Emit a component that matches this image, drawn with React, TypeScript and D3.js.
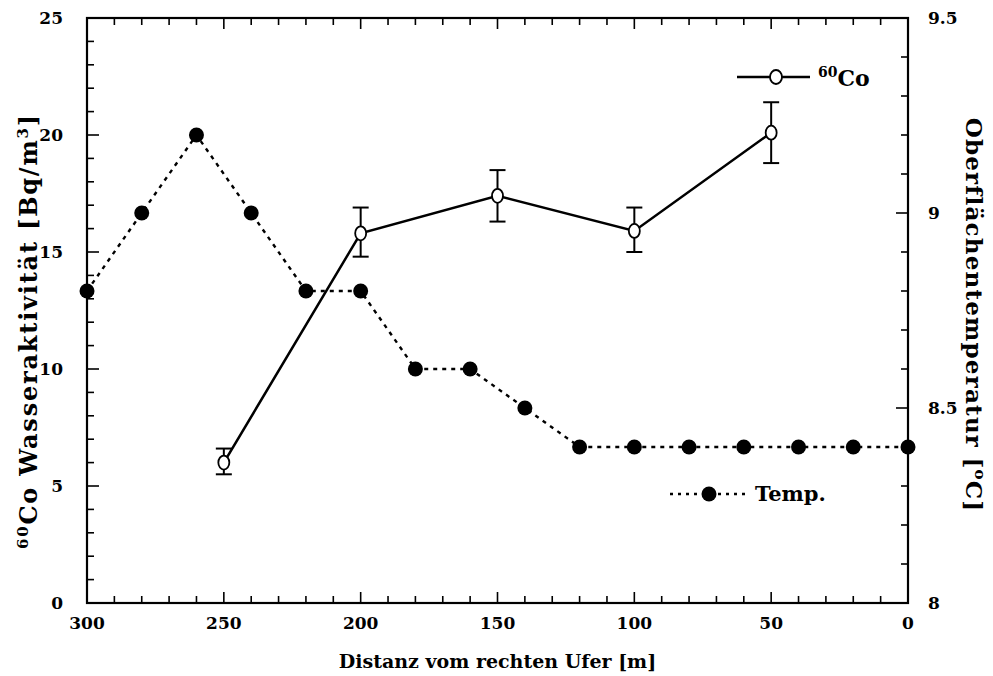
import React from "react";
import * as d3 from "d3";

const coDist = [250, 200, 150, 100, 50];
const coValue = [6.0, 15.8, 17.4, 15.9, 20.1];
const coLow = [5.5, 14.8, 16.3, 15.0, 18.8];
const coHigh = [6.6, 16.9, 18.5, 16.9, 21.4];

const tempDist = [300, 280, 260, 240, 220, 200, 180, 160, 140, 120, 100, 80, 60, 40, 20, 0];
const tempValue = [8.8, 9.0, 9.2, 9.0, 8.8, 8.8, 8.6, 8.6, 8.5, 8.4, 8.4, 8.4, 8.4, 8.4, 8.4, 8.4];

const xTickLabels = [300, 250, 200, 150, 100, 50, 0];
const leftTickLabels = [0, 5, 10, 15, 20, 25];
const rightTickLabels = ["8", "8.5", "9", "9.5"];

const W = 993, H = 676;
const L = 87, R = 908, T = 18, B = 603;
const FONT = "'DejaVu Serif', 'Liberation Serif', serif";

export default function App() {
  const x = d3.scaleLinear().domain([300, 0]).range([L, R]);
  const yL = d3.scaleLinear().domain([0, 25]).range([B, T]);
  const yR = d3.scaleLinear().domain([8, 9.5]).range([B, T]);

  const coLine = d3.line<number>().x((_, i) => x(coDist[i])).y((d) => yL(d));
  const tempLine = d3.line<number>().x((_, i) => x(tempDist[i])).y((d) => yR(d));

  const xMinor = d3.range(0, 301, 10);
  const yLMinor = d3.range(0, 26, 1);
  const yRMinor = d3.range(80, 96, 1).map((v) => v / 10);

  const tickStyle = { stroke: "#000", strokeWidth: 1.6 };
  const labelStyle: React.CSSProperties = { fontFamily: FONT, fontWeight: "bold", fontSize: 17 };

  return (
    <svg width={W} height={H} style={{ position: "absolute", left: 0, top: 0, background: "#fff" }}>
      {/* frame */}
      <rect x={L} y={T} width={R - L} height={B - T} fill="none" stroke="#000" strokeWidth={2.2} />

      {/* x ticks bottom & top */}
      {xMinor.map((v) => {
        const major = v % 50 === 0;
        const len = major ? 11 : 7;
        return (
          <g key={"x" + v}>
            <line x1={x(v)} x2={x(v)} y1={B} y2={B - len} {...tickStyle} />
            <line x1={x(v)} x2={x(v)} y1={T} y2={T + len} {...tickStyle} />
          </g>
        );
      })}
      {xTickLabels.map((v) => (
        <text key={"xl" + v} x={x(v)} y={B + 26} textAnchor="middle" style={labelStyle}>
          {v}
        </text>
      ))}

      {/* left ticks */}
      {yLMinor.map((v) => {
        const major = v % 5 === 0;
        const len = major ? 12 : 7;
        return <line key={"yl" + v} x1={L} x2={L + len} y1={yL(v)} y2={yL(v)} {...tickStyle} />;
      })}
      {leftTickLabels.map((v) => (
        <text key={"yll" + v} x={L - 24} y={yL(v) + 6} textAnchor="end" style={labelStyle}>
          {v}
        </text>
      ))}

      {/* right ticks */}
      {yRMinor.map((v, i) => {
        const major = i % 5 === 0;
        const len = major ? 12 : 7;
        return <line key={"yr" + i} x1={R} x2={R - len} y1={yR(v)} y2={yR(v)} {...tickStyle} />;
      })}
      {rightTickLabels.map((v) => (
        <text key={"yrl" + v} x={R + 20} y={yR(+v) + 6} textAnchor="start" style={labelStyle}>
          {v}
        </text>
      ))}

      {/* axis titles */}
      <text x={(L + R) / 2} y={668} textAnchor="middle" style={{ ...labelStyle, fontSize: 19 }}>
        Distanz vom rechten Ufer [m]
      </text>
      <text
        transform={`translate(37, 331) rotate(-90)`}
        textAnchor="middle"
        style={{ ...labelStyle, fontSize: 24, letterSpacing: 1.8 }}
      >
        <tspan fontSize={15} dy={-9}>60</tspan>
        <tspan dy={9}>Co Wasseraktivität [Bq/m</tspan>
        <tspan fontSize={15} dy={-9}>3</tspan>
        <tspan dy={9}>]</tspan>
      </text>
      <text
        transform={`translate(966, 315) rotate(90)`}
        textAnchor="middle"
        style={{ ...labelStyle, fontSize: 23, letterSpacing: 1.2 }}
      >
        <tspan>Oberflächentemperatur [</tspan>
        <tspan fontSize={15} dy={-9}>o</tspan>
        <tspan dy={9}>C]</tspan>
      </text>

      {/* temperature series */}
      <path d={tempLine(tempValue) || ""} fill="none" stroke="#000" strokeWidth={2.4} strokeDasharray="4 5" />
      {tempValue.map((v, i) => (
        <circle key={"t" + i} cx={x(tempDist[i])} cy={yR(v)} r={7.5} fill="#000" />
      ))}

      {/* Co series */}
      <path d={coLine(coValue) || ""} fill="none" stroke="#000" strokeWidth={2.5} />
      {coValue.map((v, i) => {
        const cx = x(coDist[i]);
        return (
          <g key={"c" + i}>
            <line x1={cx} x2={cx} y1={yL(coLow[i])} y2={yL(coHigh[i])} stroke="#000" strokeWidth={2} />
            <line x1={cx - 8} x2={cx + 8} y1={yL(coLow[i])} y2={yL(coLow[i])} stroke="#000" strokeWidth={2} />
            <line x1={cx - 8} x2={cx + 8} y1={yL(coHigh[i])} y2={yL(coHigh[i])} stroke="#000" strokeWidth={2} />
            <ellipse cx={cx} cy={yL(v)} rx={5.5} ry={7} fill="#fff" stroke="#000" strokeWidth={1.8} />
          </g>
        );
      })}

      {/* legend Co */}
      <line x1={737} x2={810} y1={77} y2={77} stroke="#000" strokeWidth={2.5} />
      <ellipse cx={776} cy={77} rx={6} ry={7} fill="#fff" stroke="#000" strokeWidth={1.8} />
      <text x={818} y={86} style={{ ...labelStyle, fontSize: 22 }}>
        <tspan fontSize={14} dy={-9}>60</tspan>
        <tspan dy={9}>Co</tspan>
      </text>

      {/* legend Temp */}
      <line x1={670} x2={745} y1={494} y2={494} stroke="#000" strokeWidth={2.4} strokeDasharray="3 5" />
      <circle cx={709} cy={494} r={7.5} fill="#000" />
      <text x={755} y={501} style={{ ...labelStyle, fontSize: 21 }}>
        Temp.
      </text>
    </svg>
  );
}
